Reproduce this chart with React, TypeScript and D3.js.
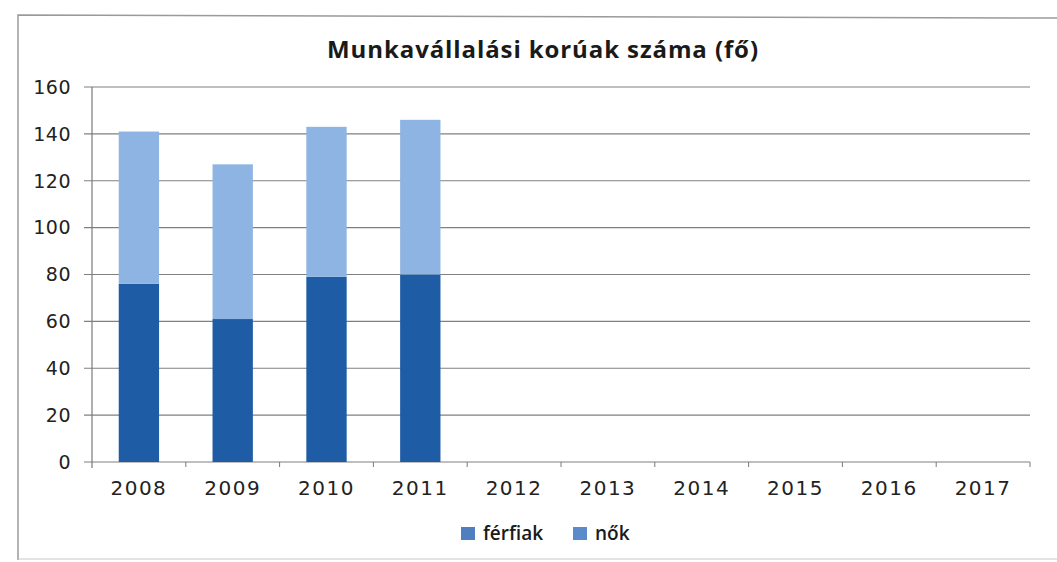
import React from "react";
import * as d3 from "d3";

const years = ["2008", "2009", "2010", "2011", "2012", "2013", "2014", "2015", "2016", "2017"];
const ferfiak: (number | null)[] = [76, 61, 79, 80, null, null, null, null, null, null];
const nok: (number | null)[] = [65, 66, 64, 66, null, null, null, null, null, null];
const yTicks = [0, 20, 40, 60, 80, 100, 120, 140, 160];
const seriesNames = ["férfiak", "nők"];
const seriesColors = ["#1f5ca6", "#8db4e2"];
const legendColors = ["#4f7fbf", "#5b8cc9"];

export default function App() {
  const W = 1057, H = 562;
  const left = 92, right = 1030, top = 87, bottom = 462;
  const x = d3.scaleBand().domain(years).range([left, right]).paddingInner(0.57).paddingOuter(0.285);
  const y = d3.scaleLinear().domain([0, 160]).range([bottom, top]);
  const stacked = years.map((yr, i) => ({ yr, a: ferfiak[i], b: nok[i] }));
  const band = (right - left) / years.length;
  const font = "'DejaVu Sans', Verdana, sans-serif";
  return (
    <svg width={W} height={H} style={{ position: "absolute", left: 0, top: 0, background: "#fff" }}>
      <rect x={0} y={0} width={W} height={H} fill="#fff" />
      <path d={`M18,560 L18,15 L1057,18`} fill="none" stroke="#9a9a9a" strokeWidth={1.5} />
      <line x1={18} y1={559} x2={1057} y2={559} stroke="#c8c8c8" strokeWidth={1} />
      <text x={543} y={58} textAnchor="middle" fontFamily="'Open Sans', sans-serif" fontWeight="bold" fontSize={24} letterSpacing={0.9} fill="#1a1a1a">
        Munkavállalási korúak száma (fő)
      </text>
      {yTicks.map((t) => (
        <g key={t}>
          <line x1={84} x2={right} y1={y(t)} y2={y(t)} stroke="#808080" strokeWidth={1.2} />
          <text x={71} y={y(t)} dy="0.36em" textAnchor="end" fontFamily={font} fontSize={19} letterSpacing={0.5} fill="#222">
            {t}
          </text>
        </g>
      ))}
      <line x1={left} x2={left} y1={top} y2={bottom + 6} stroke="#7a7a7a" strokeWidth={1.2} />
      {years.map((yr, i) => (
        <line key={yr} x1={left + band * (i + 1)} x2={left + band * (i + 1)} y1={bottom} y2={bottom + 5} stroke="#7a7a7a" />
      ))}
      {stacked.map((d) =>
        d.a == null ? null : (
          <g key={d.yr}>
            <rect x={x(d.yr)} width={x.bandwidth()} y={y(d.a)} height={y(0) - y(d.a)} fill={seriesColors[0]} />
            <rect x={x(d.yr)} width={x.bandwidth()} y={y(d.a + (d.b ?? 0))} height={y(d.a) - y(d.a + (d.b ?? 0))} fill={seriesColors[1]} />
          </g>
        )
      )}
      {years.map((yr) => (
        <text key={yr} x={(x(yr) ?? 0) + x.bandwidth() / 2} y={495} textAnchor="middle" fontFamily={font} fontSize={20} letterSpacing={1.5} fill="#222">
          {yr}
        </text>
      ))}
      {seriesNames.map((n, i) => {
        const lx = i === 0 ? 461 : 573;
        return (
          <g key={n}>
            <rect x={lx} y={527} width={14} height={13} fill={legendColors[i]} />
            <text x={lx + 22} y={540} fontFamily="'Open Sans', sans-serif" fontWeight={600} fontSize={19} fill="#1a1a1a">
              {n}
            </text>
          </g>
        );
      })}
    </svg>
  );
}
